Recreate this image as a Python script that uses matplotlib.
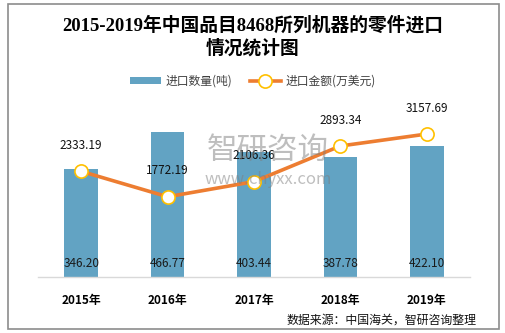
import matplotlib
matplotlib.use('Agg')
import matplotlib.pyplot as plt
import numpy as np

plt.rcParams['font.family'] = ['Noto Sans CJK SC', 'DejaVu Sans']

years = ['2015年', '2016年', '2017年', '2018年', '2019年']
qty = [346.20, 466.77, 403.44, 387.78, 422.10]        # 进口数量(吨)
amount = [2333.19, 1772.19, 2106.36, 2893.34, 3157.69]  # 进口金额(万美元)

bar_color = '#62A3C3'
line_color = '#ED7D31'

fig = plt.figure(figsize=(5.06, 3.33), dpi=100)

# outer frame
fig.patches.append(plt.Rectangle((8 / 506, 4 / 333), 491 / 506, 325 / 333,
                                 transform=fig.transFigure, fill=False,
                                 edgecolor='#8C8C8C', linewidth=1.2))

fig.text(0.5, 1 - 25 / 333, '2015-2019年中国品目8468所列机器的零件进口',
         ha='center', va='center', fontsize=13.5, fontweight='bold',
         family=['Liberation Serif', 'Noto Sans CJK SC'])
fig.text(0.5, 1 - 48 / 333, '情况统计图', ha='center', va='center',
         fontsize=13.5, fontweight='bold')

ax = fig.add_axes([38 / 506, 1 - 277 / 333, 432 / 506, 177 / 333])
x = np.arange(len(years))
bars = ax.bar(x, qty, width=0.39, color=bar_color, zorder=1,
              label='进口数量(吨)')
ax.set_xlim(-0.5, len(years) - 0.5)
ax.set_ylim(0, 570)
ax.set_yticks([])
for s in ['top', 'right', 'left']:
    ax.spines[s].set_visible(False)
ax.spines['bottom'].set_color('#D9D9D9')
ax.spines['bottom'].set_linewidth(1)
ax.set_xticks(x)
ax.set_xticklabels(years, fontsize=8.5, fontweight='bold')
ax.tick_params(axis='x', length=0, pad=12)

for xi, v in zip(x, qty):
    ax.text(xi, 45, f'{v:.2f}', ha='center', va='center', fontsize=8.5,
            color='#1a1a1a', fontweight='medium', zorder=5)

ax2 = ax.twinx()
ax2.set_ylim(0, 3909)
ax2.set_yticks([])
for s in ax2.spines.values():
    s.set_visible(False)
ln, = ax2.plot(x, amount, color=line_color, linewidth=2.6, marker='o',
               markersize=9.5, markerfacecolor='white', markeredgecolor='#FFC000',
               markeredgewidth=1.2, zorder=3, label='进口金额(万美元)')
for xi, v in zip(x, amount):
    ax2.annotate(f'{v:.2f}', (xi, v), xytext=(0, 14), textcoords='offset points',
                 ha='center', va='bottom', fontsize=8.5, color='#111111')

fig.legend(handles=[bars, ln], loc='center', bbox_to_anchor=(0.5, 1 - 81 / 333),
           ncol=2, frameon=False, fontsize=8.5, handlelength=2.6,
           handleheight=0.6, columnspacing=1.5, handletextpad=0.4,
           labelcolor='#404040')

# watermark
fig.text(0.53, 1 - 150 / 333, '智研咨询', ha='center', va='center',
         fontsize=22, color='#7f7f7f', alpha=0.5, zorder=10)
fig.text(0.53, 1 - 180 / 333, 'www.chyxx.com', ha='center', va='center',
         fontsize=12, color='#7f7f7f', alpha=0.5, zorder=10)

fig.text(477 / 506, 1 - 320 / 333, '数据来源：中国海关，智研咨询整理',
         ha='right', va='center', fontsize=8.6, color='#111111')

fig.savefig('out.png', dpi=100)
